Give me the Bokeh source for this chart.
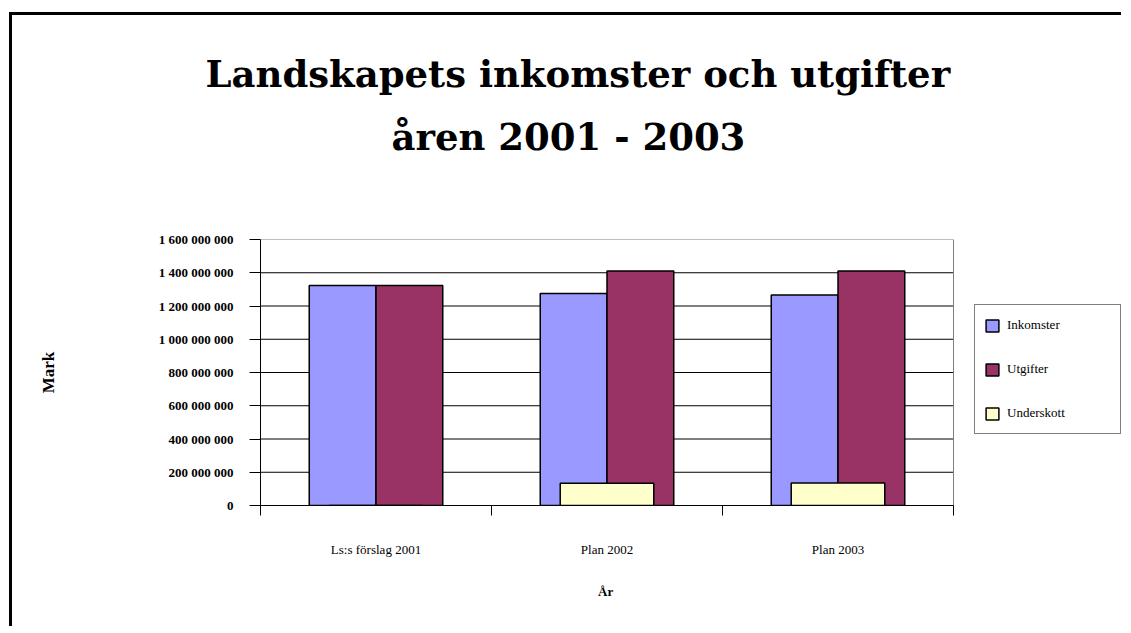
from bokeh.plotting import figure
from bokeh.models import (Range1d, LinearAxis, FixedTicker, CustomJSTickFormatter, Legend,
                          LegendItem, ColumnDataSource, Title)
from bokeh.transform import dodge
from bokeh.embed import file_html
from bokeh.resources import INLINE

# ---- data ----
categories = ["Ls:s förslag 2001", "Plan 2002", "Plan 2003"]
series_names = ["Inkomster", "Utgifter", "Underskott"]
inkomster = [1_324_000_000, 1_275_000_000, 1_266_000_000]
utgifter = [1_324_000_000, 1_410_000_000, 1_410_000_000]
underskott = [0, 134_000_000, 136_000_000]
y_ticks = [0, 200_000_000, 400_000_000, 600_000_000, 800_000_000,
           1_000_000_000, 1_200_000_000, 1_400_000_000, 1_600_000_000]
title_lines = ["Landskapets inkomster och utgifter", "åren 2001 - 2003"]
y_title = "Mark"
x_title = "År"
colors = ["#9999FF", "#993366", "#FFFFCC"]

n = len(categories)
src = ColumnDataSource(dict(x=[i + 0.5 for i in range(n)], cat=categories,
                            ink=inkomster, utg=utgifter, und=underskott))

SERIF = "Liberation Serif"

# layout: the frame runs to the right edge so that the legend can sit beside the bar area
W, H = 1112, 614
LEFT, TOP, BOTTOM = 248, 224, 124
AREA_W = 693                       # width of the bar area in pixels
frame_w = W - LEFT
x_end = n * frame_w / AREA_W

p = figure(width=W, height=H, x_range=Range1d(0, x_end), y_range=Range1d(0, y_ticks[-1]),
           x_axis_type=None, y_axis_type=None, toolbar_location=None, output_backend="svg",
           min_border_left=LEFT, min_border_right=0, min_border_top=TOP, min_border_bottom=BOTTOM,
           background_fill_color="white", border_fill_color="white")
p.outline_line_color = None
p.styles = {"border-left": "3px solid black", "border-top": "3px solid black",
            "margin-left": "9px", "margin-top": "12px"}

# grid lines and the grey plot-area border, limited to the bar area
inner = y_ticks[1:-1]
p.segment(x0=[0] * len(inner), x1=[n] * len(inner), y0=inner, y1=inner,
          line_color="black", line_width=1)
p.segment(x0=[0, n], x1=[n, n], y0=[y_ticks[-1], 0], y1=[y_ticks[-1], y_ticks[-1]],
          line_color="#808080", line_width=1)

bw = 0.289
r1 = p.vbar(x=dodge("x", -bw / 2), top="ink", width=bw, source=src,
            fill_color=colors[0], line_color="black", line_width=1.5)
r2 = p.vbar(x=dodge("x", bw / 2), top="utg", width=bw, source=src,
            fill_color=colors[1], line_color="black", line_width=1.5)
r3 = p.vbar(x="x", top="und", width=0.405, source=src,
            fill_color=colors[2], line_color="black", line_width=1.5)

yaxis = LinearAxis(
    ticker=FixedTicker(ticks=y_ticks),
    formatter=CustomJSTickFormatter(code=r'return Math.round(tick).toString().replace(/\B(?=(\d{3})+(?!\d))/g, " ");'),
    major_tick_in=0, major_tick_out=11, minor_tick_line_color=None,
    axis_line_color="black", major_tick_line_color="black",
    major_label_text_font=SERIF, major_label_text_font_style="bold",
    major_label_text_font_size="13px", major_label_standoff=16,
    major_label_text_color="black",
    axis_label=y_title, axis_label_text_font=SERIF, axis_label_text_font_style="bold",
    axis_label_text_font_size="17px", axis_label_standoff=98, axis_label_text_color="black",
)
p.add_layout(yaxis, "left")

xaxis = LinearAxis(
    bounds=(0, n),
    ticker=FixedTicker(ticks=[i + 0.5 for i in range(n)], minor_ticks=list(range(n + 1))),
    formatter=CustomJSTickFormatter(args=dict(labels=categories),
                                    code="return labels[Math.floor(tick)];"),
    major_tick_line_color=None, major_tick_in=0, major_tick_out=0,
    minor_tick_in=0, minor_tick_out=10, minor_tick_line_color="black",
    axis_line_color="black",
    major_label_text_font=SERIF, major_label_text_font_size="13px",
    major_label_standoff=26, major_label_text_color="black",
)
p.add_layout(xaxis, "below")

# x-axis title, centred under the bar area (not under the whole frame)
p.add_layout(Title(text=x_title, align="left", offset=AREA_W / 2 - 9, vertical_align="top",
                   text_font=SERIF, text_font_style="bold", text_font_size="13px",
                   standoff=48, text_color="black"), "below")

items = [LegendItem(label=nm, renderers=[r]) for nm, r in zip(series_names, [r1, r2, r3])]
legend = Legend(items=items, location=(AREA_W + 21, 71), orientation="vertical",
                glyph_width=16, glyph_height=15, label_standoff=7, label_width=104,
                label_height=22, spacing=22, padding=9, margin=0,
                border_line_color="black", border_line_width=1.5,
                background_fill_color="white", background_fill_alpha=1,
                label_text_font=SERIF, label_text_font_size="13px", label_text_color="black")
p.add_layout(legend)

# spacer between frame and title, then the two title lines (closest to the frame first)
p.add_layout(Title(text=" ", text_font_size="1px", standoff=69), "above")
p.add_layout(Title(text=title_lines[1], align="left", offset=131, text_font="DejaVu Serif",
                   text_font_style="bold", text_font_size="37px",
                   standoff=17, text_color="black"), "above")
p.add_layout(Title(text=title_lines[0], align="left", offset=-55, text_font="DejaVu Serif",
                   text_font_style="bold", text_font_size="37px",
                   standoff=17, text_color="black"), "above")

open("out.html", "w").write(file_html(p, INLINE))
